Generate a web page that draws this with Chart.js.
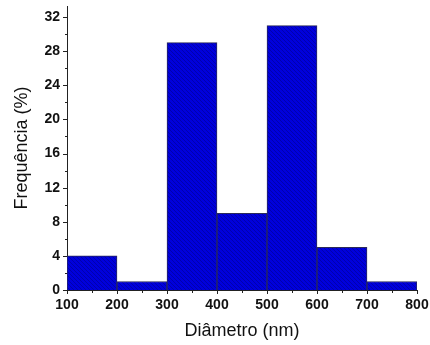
<!DOCTYPE html>
<html>
<head>
<meta charset="utf-8">
<script src="https://cdn.jsdelivr.net/npm/chart.js@4"></script>
<style>
  html, body { margin: 0; padding: 0; background: #fff; }
  #wrap { width: 430px; height: 345px; }
</style>
</head>
<body>
<div id="wrap"><canvas id="histChart" width="430" height="345"></canvas></div>
<script>
// bin edges (nm) and frequencies (%)
const binStarts = [100, 200, 300, 400, 500, 600, 700];
const binWidth = 100;
const freqs = [4, 1, 29, 9, 31, 5, 1];
const yTicks = [0, 4, 8, 12, 16, 20, 24, 28, 32];
const xTicks = [100, 200, 300, 400, 500, 600, 700, 800];

function hatch() {
  const c = document.createElement("canvas");
  c.width = 4; c.height = 4;
  const g = c.getContext("2d");
  g.fillStyle = "#0000dc";
  g.fillRect(0, 0, 4, 4);
  g.strokeStyle = "rgba(0,0,90,0.45)";
  g.lineWidth = 0.8;
  g.beginPath();
  g.moveTo(-1, -1); g.lineTo(5, 5);
  g.moveTo(-1, 3); g.lineTo(1, 5);
  g.moveTo(3, -1); g.lineTo(5, 1);
  g.stroke();
  return g.createPattern(c, "repeat");
}

// tick marks: major outward, minor half-way
const tickMarks = {
  id: "tickMarks",
  afterDraw(chart) {
    const ctx = chart.ctx;
    const x = chart.scales.x, y = chart.scales.y;
    ctx.save();
    ctx.strokeStyle = "#222";
    ctx.lineWidth = 1;
    ctx.beginPath();
    for (let v = 0; v <= 32; v += 2) {
      const py = Math.round(y.getPixelForValue(v)) + 0.5;
      const len = v % 4 === 0 ? 4 : 2;
      ctx.moveTo(x.left - len, py); ctx.lineTo(x.left, py);
    }
    for (let v = 100; v <= 800; v += 50) {
      const px = Math.round(x.getPixelForValue(v)) + 0.5;
      const len = v % 100 === 0 ? 4 : 3;
      ctx.moveTo(px, y.bottom); ctx.lineTo(px, y.bottom + len);
    }
    ctx.stroke();
    ctx.restore();
  }
};

const tickFont = { family: "Liberation Sans, Arial", size: 14, weight: "bold" };
const titleFont = { family: "Liberation Sans, Arial", size: 18 };

new Chart(document.getElementById("histChart"), {
  type: "bar",
  data: {
    datasets: [{
      data: binStarts.map((s, i) => ({ x: s + binWidth / 2, y: freqs[i] })),
      backgroundColor: hatch(),
      borderColor: "#2a2a5a",
      borderWidth: 1,
      barPercentage: 1,
      categoryPercentage: 1
    }]
  },
  options: {
    responsive: false,
    animation: false,
    layout: { padding: { top: 6, right: 13, left: 0, bottom: 0 } },
    plugins: { legend: { display: false }, tooltip: { enabled: false } },
    scales: {
      x: {
        type: "linear",
        min: 100, max: 800,
        offset: false,
        grid: { display: false, drawTicks: false },
        border: { display: true, color: "#222", width: 1 },
        ticks: {
          stepSize: 100, padding: 7, color: "#111", font: tickFont,
          maxRotation: 0
        },
        afterBuildTicks: s => { s.ticks = xTicks.map(v => ({ value: v })); },
        afterFit: s => { s.height = 55; s.paddingLeft = 0; s.paddingRight = 0; },
        title: { display: true, text: "Diâmetro (nm)", color: "#111", font: titleFont, padding: { top: 0, bottom: 3 } }
      },
      y: {
        min: 0, max: 33.3,
        grid: { display: false, drawTicks: false },
        border: { display: true, color: "#222", width: 1 },
        ticks: { stepSize: 4, includeBounds: false, padding: 7, color: "#111", font: tickFont },
        afterBuildTicks: s => { s.ticks = yTicks.map(v => ({ value: v })); },
        afterFit: s => { s.width = 67; s.paddingTop = 0; s.paddingBottom = 0; },
        title: { display: true, text: "Frequência (%)", color: "#111", font: titleFont, padding: { top: 11, bottom: 0 } }
      }
    }
  },
  plugins: [tickMarks]
});
</script>
</body>
</html>
